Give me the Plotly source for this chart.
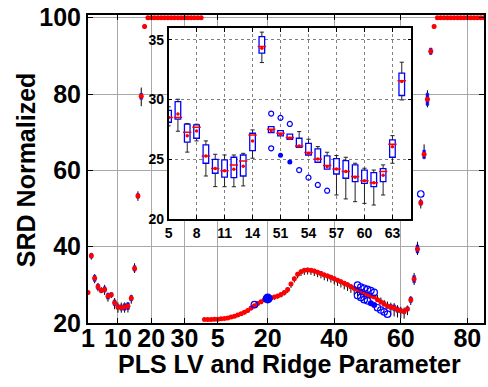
import plotly.graph_objects as go

# ---------------- main panel data (position index 1..120) ----------------
main_pos = list(range(1, 121))
main_mean = ([28.0, 37.6, 31.7, 29.5, 28.5, 28.8, 27.0, 27.4, 25.3, 24.2,
              24.05, 24.2, 24.4, 26.5, 34.3, 53.3, 79.4, 97.7] + [100] * 17 +
             [20.9, 20.9, 20.9, 21.0, 21.0, 21.1, 21.2, 21.3, 21.6, 21.8,
              22.1, 22.4, 22.8, 23.3, 23.9, 24.5, 25.1, 25.6, 26.1, 26.4,
              26.6, 26.8, 27.1, 27.5, 28.0, 28.8, 30.2, 31.6, 32.8, 33.4,
              33.8, 33.9, 33.8, 33.6, 33.3, 33.0, 32.6, 32.3, 32.0, 31.6,
              31.2, 30.8, 30.4, 30.0, 29.5, 29.1, 28.7, 28.3, 27.9, 27.4,
              27.1, 26.8, 26.1, 25.5, 25.0, 24.4, 24.2, 24.0, 23.5, 23.2,
              23.0, 23.7, 26.1, 31.5, 39.4, 51.5, 64.2, 78.6, 91.2, 97.7] + [100] * 15)
# half height of the box, distance to lower / upper whisker
main_box = ([0.3, 0.6, 0.8, 0.7, 0.5, 0.7, 0.75, 0.55, 0.75, 0.6, 0.7, 0.85, 0.9, 0.7, 0.7, 0.6, 0.8, 0.4] + [0] * 17 +
            [0.2, 0.2, 0.2, 0.2, 0.2, 0.2, 0.2, 0.25, 0.25, 0.25,
             0.25, 0.3, 0.3, 0.3, 0.3, 0.3, 0.3, 0.35, 0.35, 0.35,
             0.35, 0.35, 0.35, 0.35, 0.4, 0.4, 0.4, 0.4, 0.4, 0.4,
             0.4, 0.4, 0.4, 0.4, 0.4, 0.45, 0.45, 0.45, 0.45, 0.45,
             0.45, 0.45, 0.45, 0.5, 0.5, 0.5, 0.5, 0.5, 0.5, 0.25,
             0.22, 0.21, 0.38, 0.49, 0.56, 0.55, 0.64, 0.74, 0.7, 0.55,
             0.58, 0.55, 0.72, 0.93, 1.05, 0.65, 1.1, 1.6, 0.8, 0.4] + [0] * 15)
main_wlo = ([0.4, 1.0, 1.3, 1.2, 0.7, 1.45, 1.4, 0.85, 1.7, 1.5, 1.35, 1.5, 1.65, 1.45, 1.2, 1.3, 2.6, 0.5] + [0] * 17 +
            [0.3, 0.3, 0.3, 0.35, 0.35, 0.35, 0.4, 0.4, 0.45, 0.45,
             0.5, 0.5, 0.55, 0.55, 0.6, 0.6, 0.6, 0.65, 0.65, 0.7,
             0.7, 0.75, 0.75, 0.8, 0.8, 0.9, 1.0, 1.0, 1.1, 1.1,
             1.2, 1.2, 1.2, 1.3, 1.3, 1.3, 1.4, 1.4, 1.4, 1.5,
             1.5, 1.5, 1.6, 1.6, 1.6, 1.7, 1.7, 1.7, 1.8, 0.2,
             0.14, 0.1, 0.12, 0.14, 0.28, 0.21, 2.18, 2.29, 2.05, 1.9,
             1.87, 1.65, 1.39, 1.54, 1.6, 1.5, 1.3, 2.1, 1.0, 0.5] + [0] * 15)
main_whi = ([0.4, 0.8, 1.1, 1.0, 0.9, 1.2, 1.0, 0.6, 1.25, 1.2, 1.3, 1.2, 1.1, 0.9, 1.35, 1.2, 2.3, 0.5] + [0] * 17 +
            [0.25, 0.25, 0.25, 0.3, 0.3, 0.3, 0.3, 0.3, 0.35, 0.35,
             0.35, 0.4, 0.4, 0.4, 0.4, 0.45, 0.45, 0.45, 0.5, 0.5,
             0.5, 0.5, 0.5, 0.5, 0.55, 0.55, 0.6, 0.6, 0.6, 0.6,
             0.6, 0.6, 0.6, 0.6, 0.6, 0.6, 0.6, 0.6, 0.6, 0.6,
             0.6, 0.6, 0.6, 0.6, 0.6, 0.6, 0.6, 0.6, 0.6, 0.34,
             0.3, 0.34, 1.2, 1.18, 1.03, 1.21, 1.12, 1.2, 1.17, 1.04,
             1.06, 0.87, 0.92, 1.62, 1.9, 1.1, 2.6, 2.4, 0.9, 0.4] + [0] * 15)
main_out_open_x = [51, 82, 83, 84, 85, 86, 87, 82, 83, 84, 85, 88, 89, 90, 91, 101]
main_out_open_y = [24.8, 29.9, 29.4, 29.1, 28.8, 28.5, 28.0, 27.2, 26.7, 26.1, 25.8, 24.0, 23.4, 22.9, 22.3, 53.8]
main_out_fill_x = [86, 87]
main_out_fill_y = [25.2, 24.7]
main_big_x = [55]
main_big_y = [26.4]
main_tickvals = [1, 10, 20, 30, 40, 55, 75, 95, 115]
main_ticktext = ['1', '10', '20', '30', '5', '20', '40', '60', '80']
main_yticks = [20, 40, 60, 80, 100]

# ---------------- inset data ----------------
ins_pos = list(range(5, 31))
ins_q3 = [29.1, 29.83, 27.94, 27.88, 26.2, 25.0, 24.95, 25.17, 25.36, 27.18, 35.28, 27.74, 27.4,
          27.1, 26.76, 26.34, 25.87, 25.28, 25.05, 24.89, 24.53, 24.1, 23.88, 24.22, 26.62, 32.21]
ins_q1 = [28.1, 28.36, 26.43, 26.76, 24.67, 23.83, 23.5, 23.46, 23.6, 25.73, 33.89, 27.23, 26.96,
          26.68, 26.0, 25.36, 24.75, 24.17, 23.77, 23.41, 23.13, 22.99, 22.71, 23.13, 25.17, 30.34]
ins_med = [28.5, 28.5, 27.26, 27.68, 25.28, 24.22, 24.05, 24.53, 24.86, 27.04, 34.44, 27.51, 27.18,
           26.82, 26.12, 25.56, 25.03, 24.47, 24.19, 23.97, 23.55, 23.21, 23.04, 23.97, 26.26, 31.57]
ins_mean = [28.5, 28.8, 26.98, 27.37, 25.28, 24.22, 24.05, 24.17, 24.42, 26.54, 34.3, 27.4, 27.1,
            26.76, 26.12, 25.5, 25.03, 24.38, 24.19, 23.97, 23.5, 23.21, 23.04, 23.66, 26.06, 31.51]
ins_whi = [29.4, 30.03, 28.0, 27.94, 26.54, 25.42, 25.36, 25.36, 25.5, 27.46, 35.65, 27.74, 27.4,
           27.1, 27.32, 26.68, 26.06, 25.59, 25.31, 25.17, 24.67, 24.25, 24.1, 24.53, 26.98, 33.13]
ins_wlo = [27.8, 27.35, 25.6, 26.54, 23.6, 22.71, 22.7, 22.7, 22.77, 25.09, 33.1, 27.23, 26.96,
           26.68, 26.0, 25.36, 24.75, 24.17, 22.01, 21.68, 21.45, 21.31, 21.17, 22.01, 24.67, 29.97]
ins_out_open_x = [16, 16, 17, 18, 19, 20, 21, 22]
ins_out_open_y = [28.83, 25.92, 28.47, 27.96, 24.1, 23.46, 22.85, 22.37]
ins_out_fill_x = [17, 18]
ins_out_fill_y = [25.34, 24.78]
ins_tickvals = [5, 8, 11, 14, 17, 20, 23, 26, 29]
ins_ticktext = ['5', '8', '11', '14', '51', '54', '57', '60', '63']
ins_yticks = [20, 25, 30, 35]

RED = '#ff0000'
BLUE = '#0000ff'
fig = go.Figure()

# ---- main panel ----
wx, wy = [], []
for p, m, b, lo, hi in zip(main_pos, main_mean, main_box, main_wlo, main_whi):
    if hi > b:
        wx += [p, p, None]; wy += [m + b, m + hi, None]
    if lo > b:
        wx += [p, p, None]; wy += [m - b, m - lo, None]
fig.add_trace(go.Scatter(x=wx, y=wy, mode='lines', line=dict(color='black', width=1),
                         xaxis='x', yaxis='y', hoverinfo='skip'))
bx = [p for p, b in zip(main_pos, main_box) if b > 0]
bbase = [m - b for m, b in zip(main_mean, main_box) if b > 0]
bh = [2 * b for b in main_box if b > 0]
fig.add_trace(go.Bar(x=bx, y=bh, base=bbase, width=0.8, xaxis='x', yaxis='y',
                     marker=dict(color=BLUE, line=dict(color=BLUE, width=0.5))))
fig.add_trace(go.Scatter(x=main_pos, y=main_mean, mode='markers', xaxis='x', yaxis='y',
                         marker=dict(color=RED, size=5, line=dict(width=0))))
fig.add_trace(go.Scatter(x=main_out_open_x, y=main_out_open_y, mode='markers', xaxis='x', yaxis='y',
                         marker=dict(symbol='circle-open', color=BLUE, size=6.5, line=dict(width=1.2))))
fig.add_trace(go.Scatter(x=main_out_fill_x, y=main_out_fill_y, mode='markers', xaxis='x', yaxis='y',
                         marker=dict(symbol='circle', color=BLUE, size=6)))
fig.add_trace(go.Scatter(x=main_big_x, y=main_big_y, mode='markers', xaxis='x', yaxis='y',
                         marker=dict(symbol='circle', color=BLUE, size=10)))

# ---- inset ----
ix, iy, cx, cy = [], [], [], []
for p, q1, q3, lo, hi in zip(ins_pos, ins_q1, ins_q3, ins_wlo, ins_whi):
    if hi > q3 + 1e-9:
        ix += [p, p, None]; iy += [q3, hi, None]; cx.append(p); cy.append(hi)
    if lo < q1 - 1e-9:
        ix += [p, p, None]; iy += [q1, lo, None]; cx.append(p); cy.append(lo)
fig.add_trace(go.Bar(x=ins_pos, y=[a - b for a, b in zip(ins_q3, ins_q1)], base=ins_q1, width=0.6,
                     xaxis='x2', yaxis='y2',
                     marker=dict(color='white', line=dict(color=BLUE, width=1.3))))
fig.add_trace(go.Scatter(x=ix, y=iy, mode='lines', line=dict(color='#222222', width=1),
                         xaxis='x2', yaxis='y2', hoverinfo='skip'))
fig.add_trace(go.Scatter(x=cx, y=cy, mode='markers', xaxis='x2', yaxis='y2',
                         marker=dict(symbol='line-ew', size=3, line=dict(color='#222222', width=1))))
fig.add_trace(go.Scatter(x=ins_pos, y=ins_med, mode='markers', xaxis='x2', yaxis='y2',
                         marker=dict(symbol='line-ew', size=6, line=dict(color=RED, width=1.5))))
fig.add_trace(go.Scatter(x=ins_pos, y=ins_mean, mode='markers', xaxis='x2', yaxis='y2',
                         marker=dict(color=RED, size=3.5, line=dict(width=0))))
fig.add_trace(go.Scatter(x=ins_out_open_x, y=ins_out_open_y, mode='markers', xaxis='x2', yaxis='y2',
                         marker=dict(symbol='circle-open', color=BLUE, size=5, line=dict(width=1.2))))
fig.add_trace(go.Scatter(x=ins_out_fill_x, y=ins_out_fill_y, mode='markers', xaxis='x2', yaxis='y2',
                         marker=dict(symbol='circle', color=BLUE, size=5)))

FONT = 'Liberation Sans, Arial, sans-serif'
axis_common = dict(showline=True, linecolor='black', mirror='ticks', ticks='inside',
                   tickcolor='black', zeroline=False, showgrid=True)
fig.update_layout(
    width=488, height=387,
    margin=dict(l=88, r=2, t=15, b=64),
    paper_bgcolor='white', plot_bgcolor='white',
    showlegend=False, barmode='overlay',
    font=dict(family=FONT, size=25, color='black', weight='bold'),
    xaxis=dict(domain=[0, 1], range=[1, 120], tickvals=main_tickvals, ticktext=main_ticktext,
               gridcolor='#a8a8a8', gridwidth=1, linewidth=2, ticklen=5, tickwidth=1,
               ticklabelstandoff=-8,
               tickfont=dict(size=25, family=FONT, weight='bold'), **axis_common),
    yaxis=dict(domain=[0, 1], range=[20, 100.7], tickvals=main_yticks,
               gridcolor='#a8a8a8', gridwidth=1, linewidth=2, ticklen=5, tickwidth=1,
               tickfont=dict(size=25, family=FONT, weight='bold'), **axis_common),
    xaxis2=dict(domain=[0.2035, 0.8166], anchor='y2', range=[5, 31.03], tickvals=ins_tickvals,
                ticktext=ins_ticktext, gridcolor='#808080', griddash='dot', gridwidth=1,
                linewidth=1.5, ticklen=4, tickwidth=1,
                tickfont=dict(size=14, family=FONT, weight='bold'), **axis_common),
    yaxis2=dict(domain=[0.3377, 0.958], anchor='x2', range=[20, 36], tickvals=ins_yticks,
                gridcolor='#808080', griddash='dot', gridwidth=1,
                linewidth=1.5, ticklen=4, tickwidth=1,
                tickfont=dict(size=14, family=FONT, weight='bold'), **axis_common),
    annotations=[
        dict(text='PLS LV and Ridge Parameter', xref='paper', yref='paper', x=0.508, y=-0.133,
             xanchor='center', yanchor='middle', showarrow=False,
             font=dict(size=25, family=FONT, weight='bold')),
        dict(text='SRD Normalized', xref='paper', yref='paper', x=-0.156, y=0.497,
             xanchor='center', yanchor='middle', showarrow=False, textangle=-90,
             font=dict(size=25, family=FONT, weight='bold')),
    ],
)
fig.write_html('out.html')
